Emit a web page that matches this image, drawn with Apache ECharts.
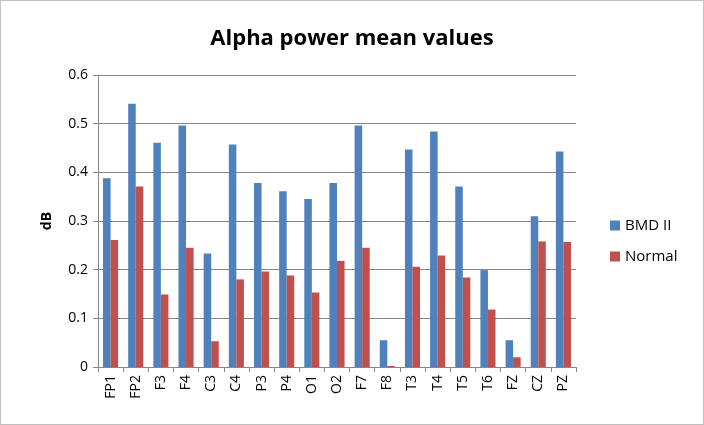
<!DOCTYPE html>
<html><head><meta charset="utf-8">
<script src="https://cdn.jsdelivr.net/npm/echarts@6/dist/echarts.min.js"></script>
<style>html,body{margin:0;padding:0;background:#fff}#c{width:704px;height:425px;box-sizing:border-box;border:1px solid #bfbfbf;}</style>
</head><body><div id="c"></div>
<script>
const categories = ['FP1','FP2','F3','F4','C3','C4','P3','P4','O1','O2','F7','F8','T3','T4','T5','T6','FZ','CZ','PZ'];
const bmd = [0.388,0.541,0.461,0.496,0.233,0.457,0.378,0.361,0.345,0.378,0.496,0.055,0.447,0.484,0.371,0.199,0.055,0.310,0.443];
const normal = [0.261,0.371,0.149,0.245,0.053,0.180,0.196,0.188,0.153,0.218,0.245,0.002,0.206,0.229,0.184,0.118,0.020,0.258,0.257];
const yTicks = [0,0.1,0.2,0.3,0.4,0.5,0.6];
const chart = echarts.init(document.getElementById('c'));
const font = 'Open Sans, Liberation Sans, sans-serif';
chart.setOption({
  animation:false,
  title:{text:'Alpha power mean values',left:'center',top:22,textStyle:{fontFamily:font,fontSize:22,fontWeight:'bold',color:'#000'}},
  grid:{left:97,right:127,top:74,bottom:57},
  legend:{orient:'vertical',left:604,top:212,itemWidth:10,itemHeight:10,itemGap:16,icon:'rect',
    textStyle:{fontFamily:font,fontSize:15,color:'#000'},data:['BMD II','Normal']},
  xAxis:{type:'category',data:categories,
    axisLine:{lineStyle:{color:'#868686'}},
    axisTick:{show:true,alignWithLabel:false,length:5,lineStyle:{color:'#868686'}},
    axisLabel:{rotate:90,fontFamily:font,fontSize:14,color:'#000',margin:8}},
  yAxis:{type:'value',min:0,max:0.6,interval:0.1,name:'dB',nameLocation:'middle',nameGap:44,
    nameTextStyle:{fontFamily:font,fontSize:14,fontWeight:'bold',color:'#000'},
    axisLine:{show:true,lineStyle:{color:'#868686'}},
    axisTick:{show:true,length:5,lineStyle:{color:'#868686'}},
    splitLine:{lineStyle:{color:'#868686'}},
    axisLabel:{fontFamily:font,fontSize:14,color:'#000',margin:10,
      formatter:v=>{const t=yTicks.find(x=>Math.abs(x-v)<1e-9);return t===0?'0':t.toFixed(1);}}},
  series:[
    {name:'BMD II',type:'bar',data:bmd,barGap:'0%',barCategoryGap:'40%',itemStyle:{color:'#4F81BD'}},
    {name:'Normal',type:'bar',data:normal,itemStyle:{color:'#C0504D'}}
  ]
});
</script></body></html>
